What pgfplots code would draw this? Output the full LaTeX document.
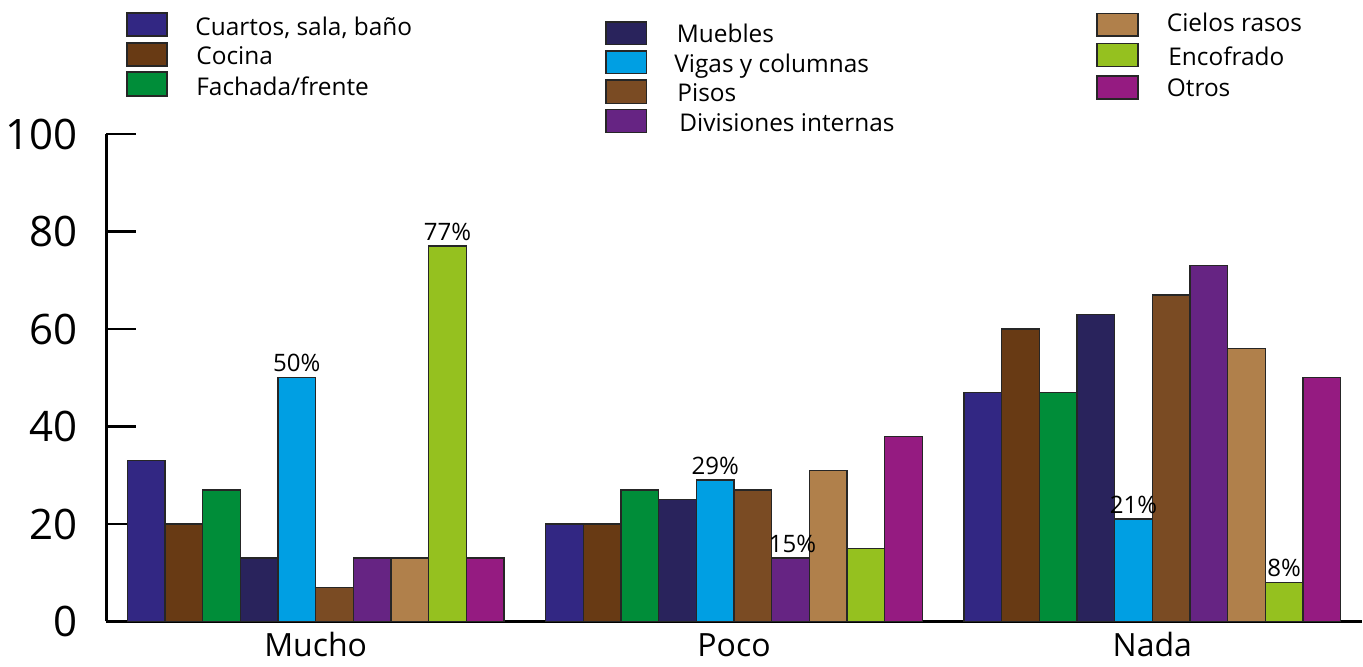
\documentclass[border=0pt]{standalone}
\usepackage{fontspec}
\setmainfont{Open Sans}
\usepackage{pgfplots}
\pgfplotsset{compat=1.18}

% series colours
\definecolor{cCuartos}{HTML}{322783}
\definecolor{cCocina}{HTML}{683A14}
\definecolor{cFachada}{HTML}{008D39}
\definecolor{cMuebles}{HTML}{29235C}
\definecolor{cVigas}{HTML}{009FE3}
\definecolor{cPisos}{HTML}{7A4B23}
\definecolor{cDivisiones}{HTML}{662483}
\definecolor{cCielos}{HTML}{B0804B}
\definecolor{cEncofrado}{HTML}{95C11F}
\definecolor{cOtros}{HTML}{951B81}

\begin{document}
\begin{tikzpicture}
\begin{axis}[
  scale only axis,
  width=627.5pt, height=243.75pt,
  xmin=-0.5, xmax=2.5, ymin=0, ymax=100,
  axis x line*=bottom, axis y line*=left,
  axis line style={-, line width=1.2pt, black},
  ybar, bar width=0.09,
  xtick={0,1,2}, xticklabels={Mucho,Poco,Nada},
  x tick style={draw=none},
  extra x ticks={0.5,1.5,2.5}, extra x tick labels={},
  extra x tick style={major tick length=5.5pt,
    tick style={draw=black, line width=1.2pt}},
  ytick={0,20,...,100},
  tick align=inside,
  y tick style={line width=1.2pt, black},
  major tick length=15pt,
  /pgf/number format/assume math mode=true,
  yticklabel style={font=\fontsize{21pt}{21pt}\selectfont, inner sep=0pt, xshift=-14.25pt},
  xticklabel style={font=\fontsize{16pt}{16pt}\selectfont, inner sep=0pt,
    anchor=base, yshift=-17.5pt},
  every axis plot/.append style={draw=black!85, line width=0.7pt},
  nodes near coords style={font=\fontsize{12pt}{12pt}\selectfont, anchor=base, inner sep=0pt, yshift=3pt, text=black},
  clip=false,
]
\addplot[fill=cCuartos, bar shift=-0.405] coordinates {(0,33) (1,20) (2,47)};
\addplot[fill=cCocina, bar shift=-0.315] coordinates {(0,20) (1,20) (2,60)};
\addplot[fill=cFachada, bar shift=-0.225] coordinates {(0,27) (1,27) (2,47)};
\addplot[fill=cMuebles, bar shift=-0.135] coordinates {(0,13) (1,25) (2,63)};
\addplot[fill=cVigas, bar shift=-0.045, point meta=y,
  nodes near coords={\pgfmathprintnumber{\pgfplotspointmeta}\%}]
  coordinates {(0,50) (1,29) (2,21)};
\addplot[fill=cPisos, bar shift=0.045] coordinates {(0,7) (1,27) (2,67)};
\addplot[fill=cDivisiones, bar shift=0.135] coordinates {(0,13) (1,13) (2,73)};
\addplot[fill=cCielos, bar shift=0.225] coordinates {(0,13) (1,31) (2,56)};
\addplot[fill=cEncofrado, bar shift=0.315, point meta=explicit symbolic,
  nodes near coords]
  coordinates {(0,77) [77\%] (1,15) [] (2,8) [8\%]};
\addplot[fill=cOtros, bar shift=0.405] coordinates {(0,13) (1,38) (2,50)};
% percentage of Encofrado in "Poco", printed over the neighbouring bars
\node[font=\fontsize{12pt}{12pt}\selectfont, anchor=base, inner sep=0pt, yshift=3pt]
  at (axis cs:1.14,13) {15\%};
\end{axis}

% legend, laid out in pixel units from the top-left corner
\begin{scope}[x=0.5pt, y=-0.5pt, shift={(-53.25pt,310.75pt)},
  sw/.style={draw=black!85, line width=0.7pt},
  lt/.style={anchor=base west, inner sep=0pt, font=\fontsize{12.2pt}{12.2pt}\selectfont}]
  \draw[sw, fill=cCuartos] (127,13) rectangle (167,36);
  \draw[sw, fill=cCocina] (127,43) rectangle (167,66);
  \draw[sw, fill=cFachada] (127,72) rectangle (167,96);
  \node[lt] at (195,36) {Cuartos, sala, baño};
  \node[lt] at (196,64.5) {Cocina};
  \node[lt] at (196,95.5) {Fachada/frente};

  \draw[sw, fill=cMuebles] (606,22) rectangle (646.5,44.5);
  \draw[sw, fill=cVigas] (606,51) rectangle (646.5,73.5);
  \draw[sw, fill=cPisos] (606,80) rectangle (646.5,103.5);
  \draw[sw, fill=cDivisiones] (606,109.5) rectangle (646.5,132.5);
  \node[lt] at (676.5,42.5) {Muebles};
  \node[lt] at (674,72.5) {Vigas y columnas};
  \node[lt] at (677,101.5) {Pisos};
  \node[lt] at (679,131.5) {Divisiones internas};

  \draw[sw, fill=cCielos] (1097,13.5) rectangle (1138,36);
  \draw[sw, fill=cEncofrado] (1097,43.5) rectangle (1138,66.5);
  \draw[sw, fill=cOtros] (1097,76) rectangle (1138,99);
  \node[lt] at (1166.5,31.5) {Cielos rasos};
  \node[lt] at (1168,65.5) {Encofrado};
  \node[lt] at (1166.5,96.5) {Otros};
\end{scope}

\pgfresetboundingbox
\useasboundingbox (-53.25pt,-22.75pt) rectangle (628.25pt,310.75pt);
\end{tikzpicture}
\end{document}
